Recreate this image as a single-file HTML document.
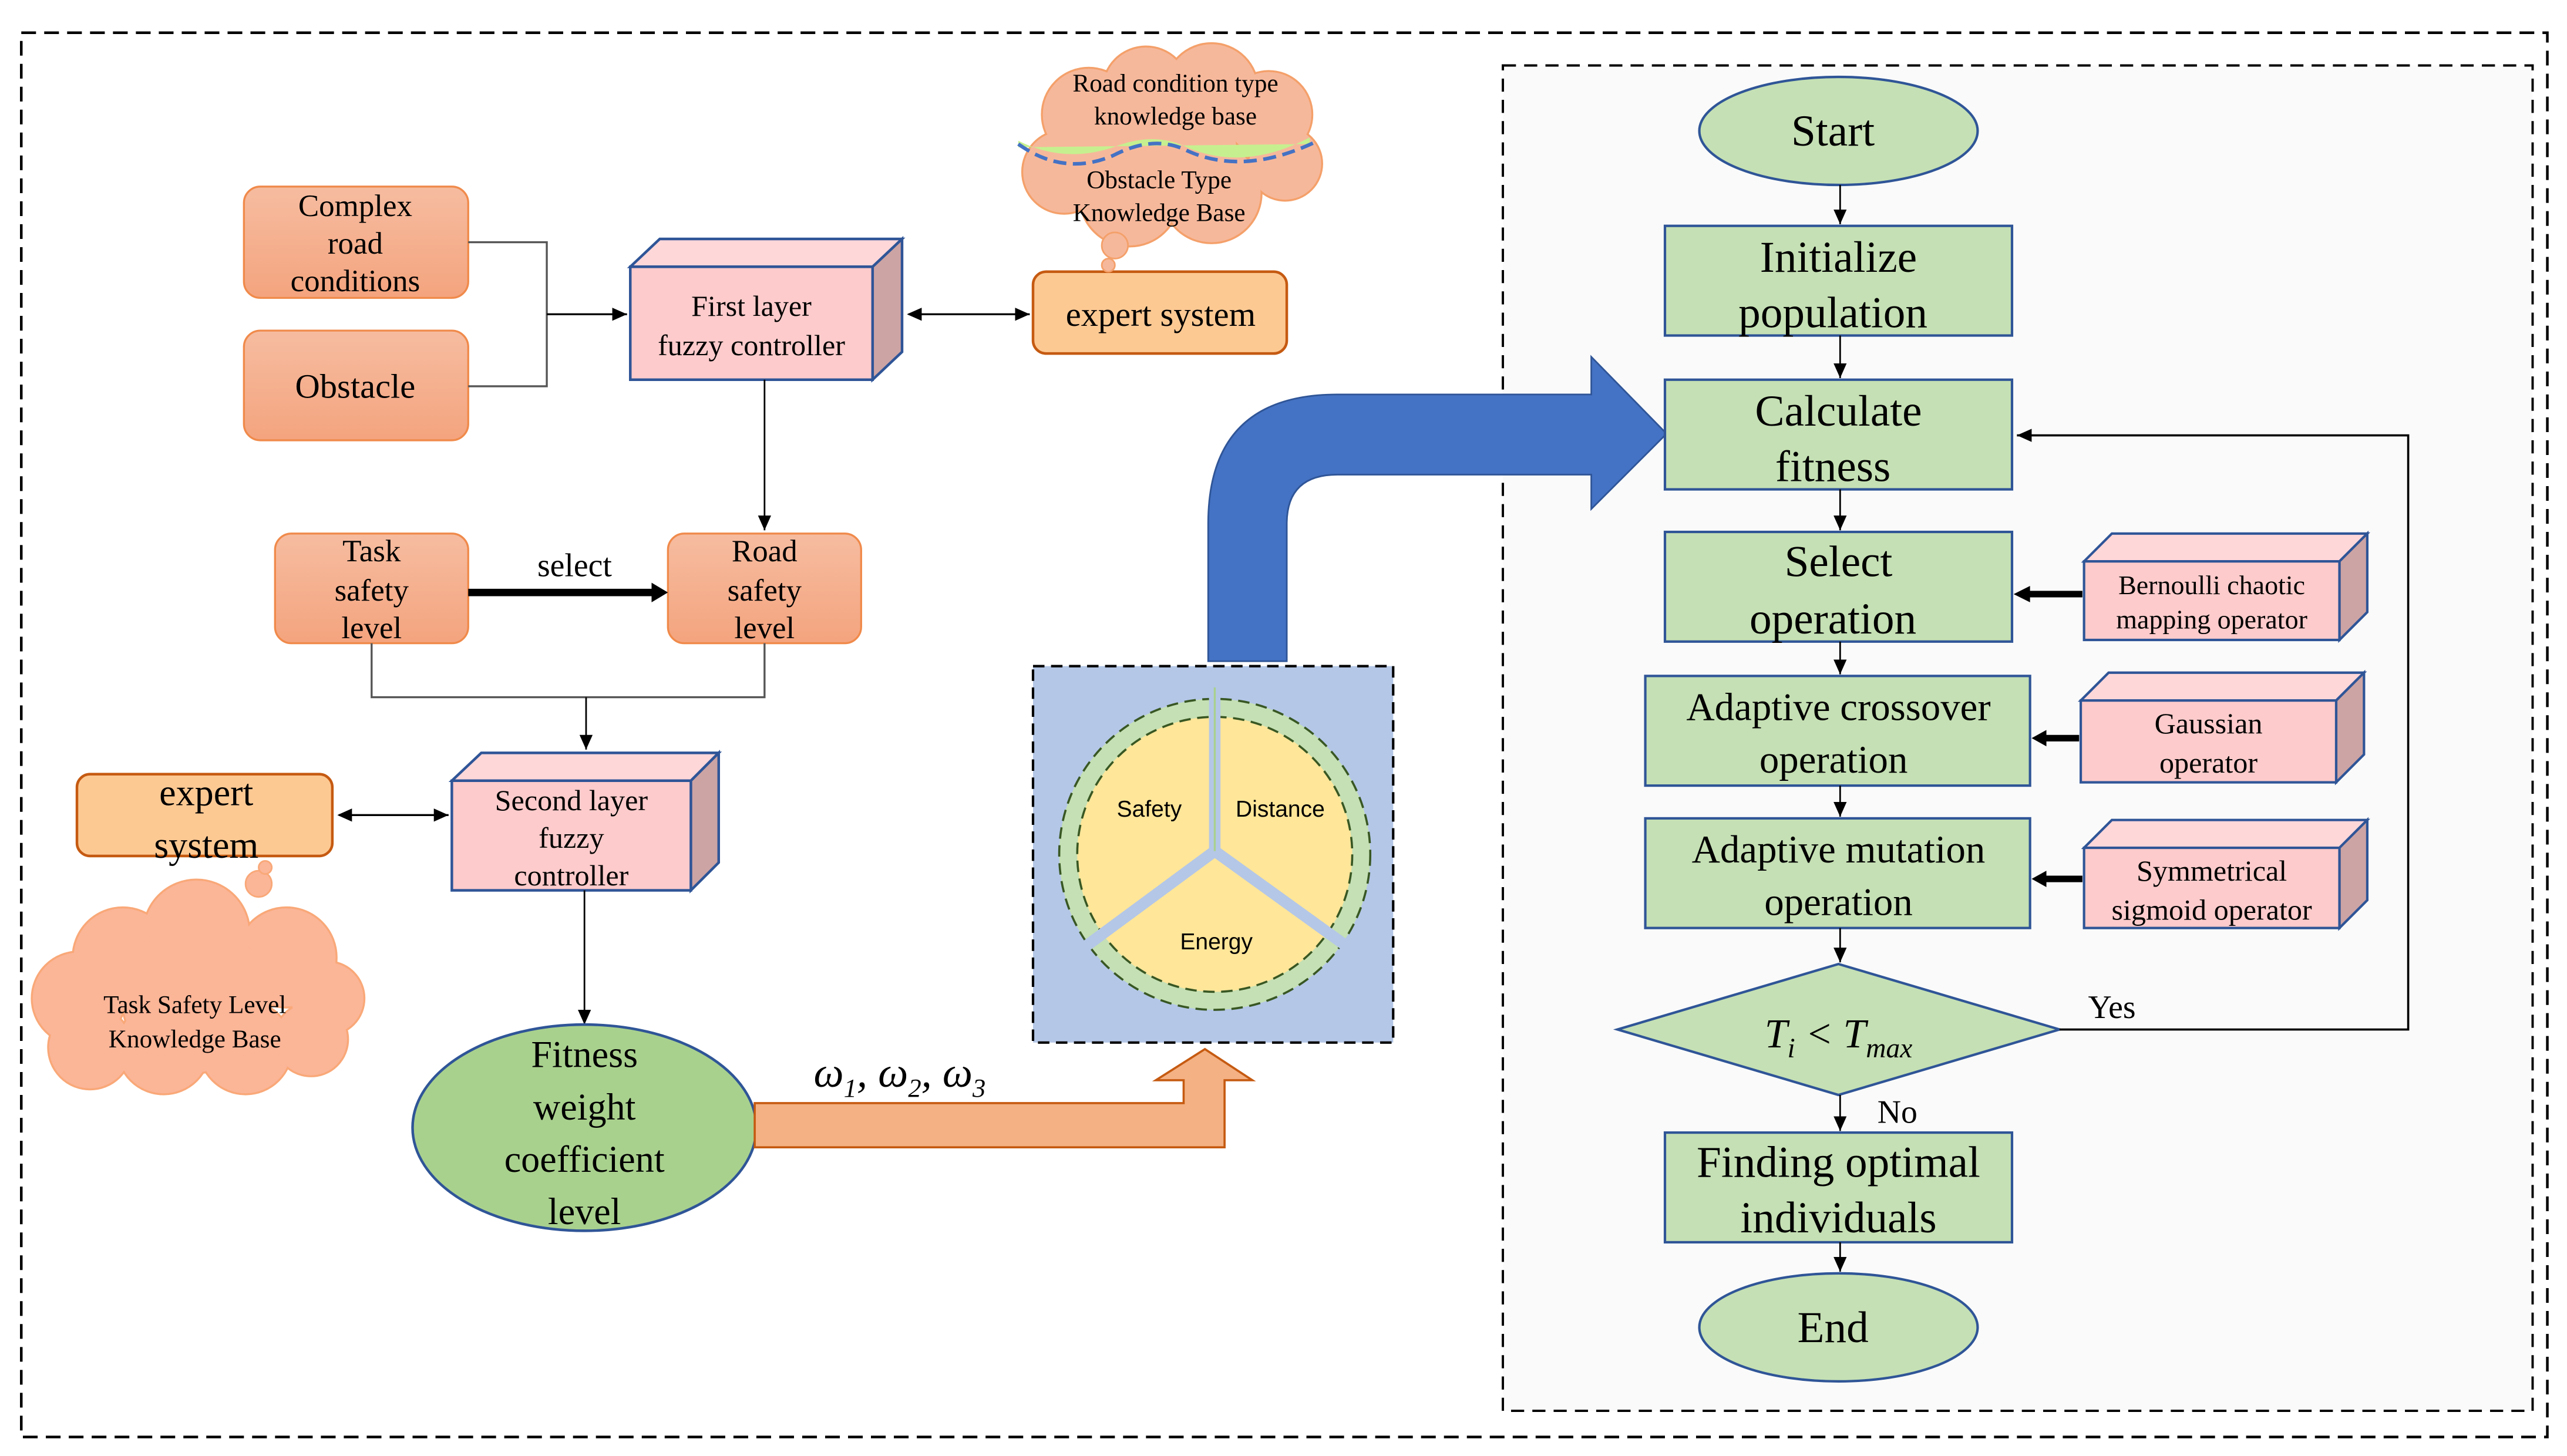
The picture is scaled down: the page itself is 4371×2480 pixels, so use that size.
<!DOCTYPE html>
<html><head><meta charset="utf-8"><style>
html,body{margin:0;padding:0;background:#fff}
svg{display:block}
text{font-family:"Liberation Serif",serif;fill:#000}
.s{font-family:"Liberation Sans",sans-serif}
</style></head><body>
<svg width="4371" height="2480" viewBox="0 0 1568 889.6" preserveAspectRatio="none" xmlns="http://www.w3.org/2000/svg">
<defs>
<linearGradient id="og" x1="0" y1="0" x2="0" y2="1"><stop offset="0" stop-color="#f6bca0"/><stop offset="1" stop-color="#f4a47e"/></linearGradient>
<marker id="a" markerWidth="10" markerHeight="10" refX="9" refY="5" orient="auto" markerUnits="userSpaceOnUse"><path d="M0,1 L9,5 L0,9z" fill="#000"/></marker>
<marker id="as" markerWidth="10" markerHeight="10" refX="1" refY="5" orient="auto" markerUnits="userSpaceOnUse"><path d="M9,1 L0,5 L9,9z" fill="#000"/></marker>
<g id="c1">
<circle cx="665" cy="70" r="28"/><circle cx="700" cy="55" r="26"/><circle cx="740" cy="55" r="28"/><circle cx="775" cy="70" r="26"/><circle cx="785" cy="100" r="22"/><circle cx="650" cy="105" r="25"/><circle cx="690" cy="120" r="30"/><circle cx="740" cy="118" r="30"/><circle cx="715" cy="90" r="40"/>
</g>
<g id="c2">
<circle cx="75" cy="585" r="30"/><circle cx="120" cy="570" r="32"/><circle cx="175" cy="585" r="30"/><circle cx="200" cy="610" r="22"/><circle cx="48" cy="610" r="28"/><circle cx="55" cy="640" r="25"/><circle cx="100" cy="640" r="28"/><circle cx="150" cy="640" r="28"/><circle cx="190" cy="635" r="22"/><circle cx="120" cy="610" r="45"/>
</g>
</defs>
<rect x="13" y="20" width="1543" height="858" fill="none" stroke="#000" stroke-width="1.6" stroke-dasharray="9,5"/>
<rect x="918" y="40" width="629" height="822" fill="#fafafa" stroke="#000" stroke-width="1.4" stroke-dasharray="8,5"/>

<rect x="149" y="114" width="137" height="68" rx="10" fill="url(#og)" stroke="#f08a4b" stroke-width="1.2"/>
<text font-size="19" text-anchor="middle"><tspan x="217" y="132">Complex</tspan><tspan x="217" y="155">road</tspan><tspan x="217" y="178">conditions</tspan></text>
<rect x="149" y="202" width="137" height="67" rx="10" fill="url(#og)" stroke="#f08a4b" stroke-width="1.2"/>
<text x="217" y="243" font-size="21" text-anchor="middle">Obstacle</text>
<path d="M286,148 H334 V236 H286" fill="none" stroke="#555" stroke-width="1.2"/>
<line x1="334" y1="192" x2="383" y2="192" stroke="#000" stroke-width="1.2" marker-end="url(#a)"/>

<path d="M385,163 L403,146 L551,146 L533,163z" fill="#fed7d9" stroke="#2f5597" stroke-width="1.6"/>
<path d="M533,163 L551,146 L551,215 L533,232z" fill="#cda4a4" stroke="#2f5597" stroke-width="1.6"/>
<rect x="385" y="163" width="148" height="69" fill="#fdcbcb" stroke="#2f5597" stroke-width="1.6"/>
<text font-size="18" text-anchor="middle"><tspan x="459" y="193">First layer</tspan><tspan x="459" y="217">fuzzy controller</tspan></text>
<line x1="555" y1="192" x2="629" y2="192" stroke="#000" stroke-width="1.2" marker-start="url(#as)" marker-end="url(#a)"/>
<rect x="631" y="166" width="155" height="50" rx="8" fill="#fdc993" stroke="#c55a11" stroke-width="1.6"/>
<text x="709" y="199" font-size="21" text-anchor="middle">expert system</text>

<use href="#c1" fill="#f6b89b" stroke="#f4a06a" stroke-width="2.4"/>
<use href="#c1" fill="#f6b89b"/>
<path d="M622,86 Q650,100 680,90 Q705,80 725,90 Q760,105 800,84 L800,88 L622,90z" fill="#c6f08f"/>
<path d="M622,88 Q650,108 680,95 Q705,82 725,92 Q760,108 805,86" fill="none" stroke="#4472c4" stroke-width="2.2" stroke-dasharray="8,4"/>
<circle cx="681" cy="150" r="8" fill="#f6b89b" stroke="#f4a06a"/><circle cx="677" cy="162" r="4" fill="#f6b89b" stroke="#f4a06a"/>
<text font-size="15.5" text-anchor="middle"><tspan x="718" y="56">Road condition type</tspan><tspan x="718" y="76">knowledge base</tspan><tspan x="708" y="115">Obstacle Type</tspan><tspan x="708" y="135">Knowledge Base</tspan></text>

<line x1="467" y1="232" x2="467" y2="324" stroke="#000" stroke-width="1" marker-end="url(#a)"/>
<rect x="168" y="326" width="118" height="67" rx="10" fill="url(#og)" stroke="#f08a4b" stroke-width="1.2"/>
<text font-size="19" text-anchor="middle"><tspan x="227" y="343">Task</tspan><tspan x="227" y="367">safety</tspan><tspan x="227" y="390">level</tspan></text>
<rect x="408" y="326" width="118" height="67" rx="10" fill="url(#og)" stroke="#f08a4b" stroke-width="1.2"/>
<text font-size="19" text-anchor="middle"><tspan x="467" y="343">Road</tspan><tspan x="467" y="367">safety</tspan><tspan x="467" y="390">level</tspan></text>
<line x1="286" y1="362" x2="400" y2="362" stroke="#000" stroke-width="4.5"/>
<path d="M398,356 L408,362 L398,368z" fill="#000"/>
<text x="351" y="352" font-size="20" text-anchor="middle">select</text>
<path d="M227,393 V426 H467 V393" fill="none" stroke="#555" stroke-width="1.2"/>
<line x1="358" y1="426" x2="358" y2="458" stroke="#000" stroke-width="1" marker-end="url(#a)"/>

<path d="M276,477 L294,460 L439,460 L422,477z" fill="#fed7d9" stroke="#2f5597" stroke-width="1.6"/>
<path d="M422,477 L439,460 L439,527 L422,544z" fill="#cda4a4" stroke="#2f5597" stroke-width="1.6"/>
<rect x="276" y="477" width="146" height="67" fill="#fdcbcb" stroke="#2f5597" stroke-width="1.6"/>
<text font-size="18" text-anchor="middle"><tspan x="349" y="495">Second layer</tspan><tspan x="349" y="518">fuzzy</tspan><tspan x="349" y="541">controller</tspan></text>
<line x1="207" y1="498" x2="274" y2="498" stroke="#000" stroke-width="1.2" marker-start="url(#as)" marker-end="url(#a)"/>
<rect x="47" y="473" width="156" height="50" rx="8" fill="#fdc993" stroke="#c55a11" stroke-width="1.6"/>
<text font-size="23" text-anchor="middle"><tspan x="126" y="492">expert</tspan><tspan x="126" y="524">system</tspan></text>

<use href="#c2" fill="#fbb597" stroke="#f9a878" stroke-width="2.4"/>
<use href="#c2" fill="#fbb597"/>
<circle cx="158" cy="540" r="8" fill="#fbb597" stroke="#f9a878"/><circle cx="162" cy="530" r="4" fill="#fbb597" stroke="#f9a878"/>
<text font-size="15.5" text-anchor="middle"><tspan x="119" y="619">Task Safety Level</tspan><tspan x="119" y="640">Knowledge Base</tspan></text>

<line x1="357" y1="544" x2="357" y2="626" stroke="#000" stroke-width="1" marker-end="url(#a)"/>
<ellipse cx="357" cy="689" rx="105" ry="63" fill="#a9d18e" stroke="#2f5597" stroke-width="1.6"/>
<text font-size="23" text-anchor="middle"><tspan x="357" y="652">Fitness</tspan><tspan x="357" y="684">weight</tspan><tspan x="357" y="716">coefficient</tspan><tspan x="357" y="748">level</tspan></text>

<path d="M461,674 H723 V660 H706 L736,641 L765,660 H748 V701 H461z" fill="#f4b183" stroke="#c55a11" stroke-width="1.3"/>
<text x="497" y="664" font-size="26" font-style="italic">ω<tspan font-size="16" dy="6">1</tspan><tspan dy="-6">, ω</tspan><tspan font-size="16" dy="6">2</tspan><tspan dy="-6">, ω</tspan><tspan font-size="16" dy="6">3</tspan></text>

<path d="M738,404 V320 Q738,241 817,241 H972 V218 L1018,265 L972,311 V290 H817 Q786,290 786,320 V404z" fill="#4472c4" stroke="#2f5597" stroke-width="1"/>

<rect x="631" y="407" width="220" height="230" fill="#b4c7e7" stroke="#000" stroke-width="1.5" stroke-dasharray="7,4"/>
<circle cx="742" cy="522" r="95" fill="#c5e0b4"/>
<circle cx="742" cy="522" r="95" fill="none" stroke="#385723" stroke-width="1.3" stroke-dasharray="7,4"/>
<circle cx="742" cy="522" r="84" fill="#ffe699" stroke="#385723" stroke-width="1.3" stroke-dasharray="7,4"/>
<g stroke="#b4c7e7" stroke-width="7"><line x1="742" y1="520" x2="742" y2="420"/><line x1="742" y1="520" x2="658" y2="582"/><line x1="742" y1="520" x2="828" y2="582"/></g>
<g stroke="#a9d18e" stroke-width="1.2"><line x1="742" y1="520" x2="742" y2="420"/></g>
<text class="s" font-size="14" text-anchor="middle"><tspan x="702" y="499">Safety</tspan><tspan x="782" y="499">Distance</tspan><tspan x="743" y="580">Energy</tspan></text>

<g stroke="#2f5597" stroke-width="1.5" fill="#c5e0b4">
<ellipse cx="1123" cy="80" rx="85" ry="33"/>
<rect x="1017" y="138" width="212" height="67"/>
<rect x="1017" y="232" width="212" height="67"/>
<rect x="1017" y="325" width="212" height="67"/>
<rect x="1005" y="413" width="235" height="67"/>
<rect x="1005" y="500" width="235" height="67"/>
<path d="M988,629 L1123,589 L1258,629 L1123,669z"/>
<rect x="1017" y="692" width="212" height="67"/>
<ellipse cx="1123" cy="811" rx="85" ry="33"/>
</g>
<text font-size="27" text-anchor="middle">
<tspan x="1123" y="89">Start</tspan>
<tspan x="1123" y="166">Initialize</tspan><tspan x="1123" y="200">population</tspan>
<tspan x="1123" y="260">Calculate</tspan><tspan x="1123" y="294">fitness</tspan>
<tspan x="1123" y="352">Select</tspan><tspan x="1123" y="387">operation</tspan>
<tspan x="1123" y="820">End</tspan>
<tspan x="1123" y="719">Finding optimal</tspan><tspan x="1123" y="753">individuals</tspan>
</text>
<text font-size="24" text-anchor="middle">
<tspan x="1123" y="440">Adaptive crossover</tspan><tspan x="1123" y="472">operation</tspan>
<tspan x="1123" y="527">Adaptive mutation</tspan><tspan x="1123" y="559">operation</tspan>
</text>
<text x="1123" y="640" font-size="25" font-style="italic" text-anchor="middle">T<tspan font-size="17" dy="6">i</tspan><tspan dy="-6"> &lt; T</tspan><tspan font-size="17" dy="6">max</tspan></text>
<g stroke="#000" stroke-width="1" marker-end="url(#a)">
<line x1="1124" y1="113" x2="1124" y2="137"/><line x1="1124" y1="205" x2="1124" y2="231"/><line x1="1124" y1="299" x2="1124" y2="324"/><line x1="1124" y1="392" x2="1124" y2="412"/><line x1="1124" y1="480" x2="1124" y2="499"/><line x1="1124" y1="567" x2="1124" y2="588"/><line x1="1124" y1="669" x2="1124" y2="691"/><line x1="1124" y1="759" x2="1124" y2="777"/>
</g>
<path d="M1258,629 H1471 V266 H1232" fill="none" stroke="#000" stroke-width="1.3" marker-end="url(#a)"/>
<text x="1290" y="622" font-size="20" text-anchor="middle">Yes</text>
<text x="1159" y="686" font-size="20" text-anchor="middle">No</text>

<g stroke="#2f5597" stroke-width="1.5">
<path d="M1273,343 L1290,326 L1446,326 L1429,343z" fill="#fed7d9"/><path d="M1429,343 L1446,326 L1446,374 L1429,391z" fill="#cda4a4"/><rect x="1273" y="343" width="156" height="48" fill="#fdcbcb"/>
<path d="M1271,428 L1288,411 L1444,411 L1427,428z" fill="#fed7d9"/><path d="M1427,428 L1444,411 L1444,461 L1427,478z" fill="#cda4a4"/><rect x="1271" y="428" width="156" height="50" fill="#fdcbcb"/>
<path d="M1273,518 L1290,501 L1446,501 L1429,518z" fill="#fed7d9"/><path d="M1429,518 L1446,501 L1446,550 L1429,567z" fill="#cda4a4"/><rect x="1273" y="518" width="156" height="49" fill="#fdcbcb"/>
</g>
<text font-size="16.5" text-anchor="middle"><tspan x="1351" y="363">Bernoulli chaotic</tspan><tspan x="1351" y="384">mapping operator</tspan></text>
<text font-size="18" text-anchor="middle"><tspan x="1349" y="448">Gaussian</tspan><tspan x="1349" y="472">operator</tspan></text>
<text font-size="18" text-anchor="middle"><tspan x="1351" y="538">Symmetrical</tspan><tspan x="1351" y="562">sigmoid operator</tspan></text>
<g stroke="#000" stroke-width="4"><line x1="1272" y1="363" x2="1238" y2="363"/><line x1="1270" y1="451" x2="1248" y2="451"/><line x1="1272" y1="537" x2="1248" y2="537"/></g>
<g fill="#000"><path d="M1230,363 L1240,358 L1240,368z"/><path d="M1241,451 L1250,446 L1250,456z"/><path d="M1241,537 L1250,532 L1250,542z"/></g>
</svg>
</body></html>
